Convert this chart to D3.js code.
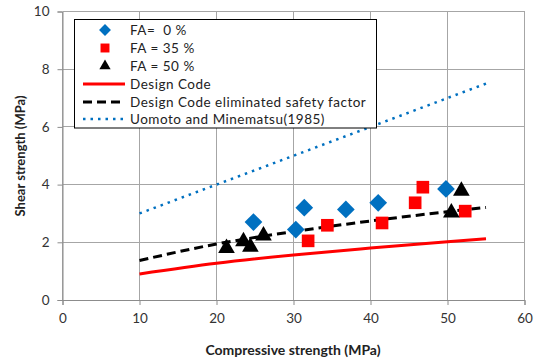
<!DOCTYPE html>
<html><head><meta charset="utf-8">
<script src="https://cdn.jsdelivr.net/npm/d3@7"></script>
<style>body{margin:0;background:#fff}svg{display:block;font-family:Lato,"Open Sans",sans-serif}</style>
</head><body><svg id="c" width="544" height="361"></svg>
<script>
const fa0X = [24.8, 30.3, 31.4, 36.8, 41.0, 49.8];
const fa0Y = [2.70, 2.44, 3.20, 3.14, 3.37, 3.85];
const fa35X = [31.9, 34.4, 41.5, 45.8, 46.8, 52.3];
const fa35Y = [2.05, 2.59, 2.67, 3.37, 3.91, 3.08];
const fa50X = [21.3, 23.5, 24.4, 26.1, 50.5, 51.8];
const fa50Y = [1.80, 2.03, 1.84, 2.23, 3.03, 3.78];
const lineX = [10, 20, 30, 40, 50, 55];
const designY = [0.90, 1.27, 1.56, 1.80, 2.02, 2.12];
const noSafetyY = [1.37, 1.94, 2.37, 2.74, 3.06, 3.21];
const uomotoY = [3.0, 4.0, 5.0, 6.0, 7.0, 7.5];
const xTicks = [0, 10, 20, 30, 40, 50, 60];
const yTicks = [0, 2, 4, 6, 8, 10];
const legendLabels = ["FA=  0 %", "FA = 35 %", "FA = 50 %", "Design Code", "Design Code eliminated safety factor", "Uomoto and Minematsu(1985)"];

const svg = d3.select("#c");
const x = d3.scaleLinear().domain([0, 60]).range([62.5, 524.5]);
const y = d3.scaleLinear().domain([0, 10]).range([300, 11.5]);
const grid = "#a6a6a6";

// gridlines
svg.append("g").selectAll("line").data(xTicks).join("line")
  .attr("x1", d => x(d)).attr("x2", d => x(d)).attr("y1", y(10)).attr("y2", y(0))
  .attr("stroke", grid).attr("stroke-width", 1).attr("shape-rendering", "crispEdges");
svg.append("g").selectAll("line").data(yTicks).join("line")
  .attr("x1", x(0)).attr("x2", x(60)).attr("y1", d => y(d)).attr("y2", d => y(d))
  .attr("stroke", grid).attr("stroke-width", 1).attr("shape-rendering", "crispEdges");

// axes
const xa = svg.append("g").attr("transform", `translate(0,${y(0)})`)
  .call(d3.axisBottom(x).tickValues(xTicks).tickSize(5).tickPadding(8).tickFormat(d3.format("d")));
const ya = svg.append("g").attr("transform", `translate(${x(0)},0)`)
  .call(d3.axisLeft(y).tickValues(yTicks).tickSize(5).tickPadding(8).tickFormat(d3.format("d")));
[xa, ya].forEach(a => {
  a.select(".domain").attr("stroke", "#8c8c8c");
  a.selectAll(".tick line").attr("stroke", "#8c8c8c");
  a.selectAll("text").attr("font-size", 13.5).attr("fill", "#333").attr("font-family", "Lato,'Open Sans',sans-serif");
});

// lines
const lg = d3.line().x(d => x(d[0])).y(d => y(d[1])).curve(d3.curveMonotoneX);
svg.append("path").datum(d3.zip(lineX, uomotoY)).attr("d", lg)
  .attr("fill", "none").attr("stroke", "#0070C0").attr("stroke-width", 2.5).attr("stroke-dasharray", "2.5,5");
svg.append("path").datum(d3.zip(lineX, designY)).attr("d", lg)
  .attr("fill", "none").attr("stroke", "#FF0000").attr("stroke-width", 3);
svg.append("path").datum(d3.zip(lineX, noSafetyY)).attr("d", lg)
  .attr("fill", "none").attr("stroke", "#000").attr("stroke-width", 3).attr("stroke-dasharray", "9,5");

// markers
const sym = (type, size) => d3.symbol().type(type).size(size)();
function drawPts(xs, ys, type, size, color) {
  svg.append("g").selectAll("path").data(d3.zip(xs, ys)).join("path")
    .attr("transform", d => `translate(${x(d[0])},${y(d[1])})`)
    .attr("d", sym(type, size)).attr("fill", color);
}
drawPts(fa0X, fa0Y, d3.symbolDiamond2, 200, "#0070C0");
drawPts(fa35X, fa35Y, d3.symbolSquare, 160, "#FF0000");
drawPts(fa50X, fa50Y, d3.symbolTriangle, 120, "#000");

// legend
const lgd = svg.append("g");
lgd.append("rect").attr("x", 74.5).attr("y", 19.5).attr("width", 302).attr("height", 108.5)
  .attr("fill", "#fff").attr("stroke", "#000").attr("stroke-width", 1);
const rowY = [30, 48, 66, 84, 102, 119];
const mk = [[d3.symbolDiamond2, 90, "#0070C0"], [d3.symbolSquare, 80, "#FF0000"], [d3.symbolTriangle, 55, "#000"]];
mk.forEach((m, i) => {
  lgd.append("path").attr("transform", `translate(105,${rowY[i]})`).attr("d", sym(m[0], m[1])).attr("fill", m[2]);
});
const lstyles = [["#FF0000", null], ["#000", "9,5"], ["#0070C0", "2.5,5"]];
lstyles.forEach((s, i) => {
  const l = lgd.append("line").attr("x1", 83).attr("x2", 125).attr("y1", rowY[i + 3]).attr("y2", rowY[i + 3])
    .attr("stroke", s[0]).attr("stroke-width", i === 2 ? 2.5 : 3);
  if (s[1]) l.attr("stroke-dasharray", s[1]);
});
lgd.selectAll("text").data(legendLabels).join("text")
  .attr("x", 130).attr("y", (d, i) => rowY[i]).attr("dy", "0.35em")
  .attr("font-size", 13.5).attr("letter-spacing", 0.5).attr("fill", "#222").style("white-space", "pre").text(d => d);

// titles
svg.append("text").attr("x", 293).attr("y", 355).attr("text-anchor", "middle")
  .attr("font-size", 14).attr("font-weight", "bold").attr("fill", "#222").text("Compressive strength (MPa)");
svg.append("text").attr("transform", "translate(20,156) rotate(-90)").attr("dy", "0.35em").attr("text-anchor", "middle")
  .attr("font-size", 13).attr("font-weight", "bold").attr("fill", "#222").text("Shear strength (MPa)");
</script></body></html>
